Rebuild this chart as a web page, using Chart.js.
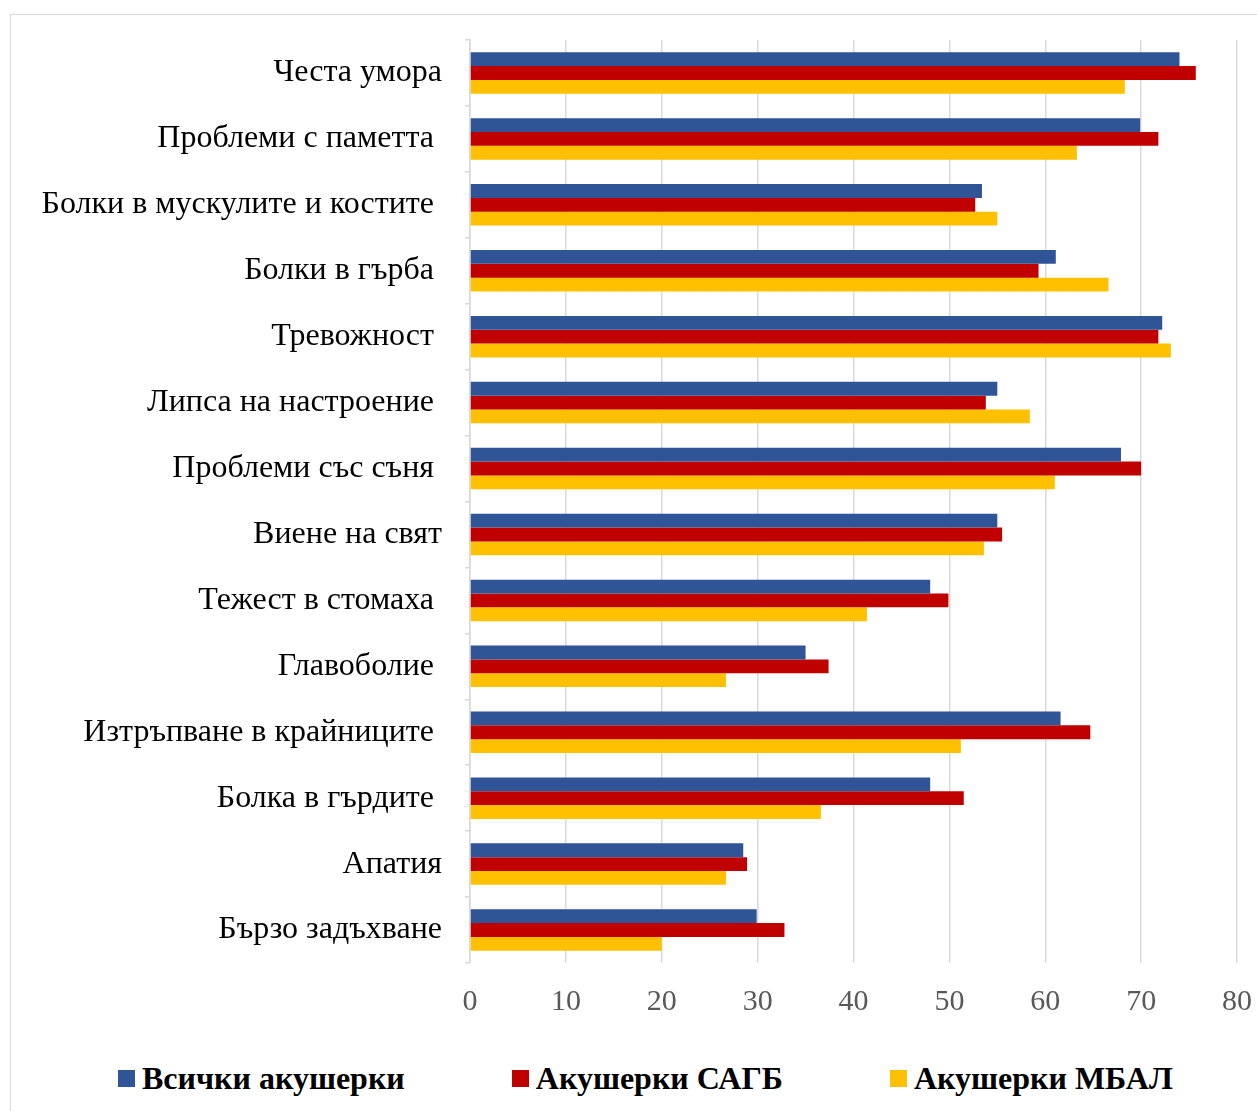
<!DOCTYPE html>
<html>
<head>
<meta charset="utf-8">
<script src="https://cdn.jsdelivr.net/npm/chart.js@4"></script>
<style>
  html, body { margin: 0; padding: 0; background: #fff; overflow: hidden; }
  #frame { position: absolute; left: 10px; top: 14px; width: 1300px; height: 1200px; border: 1px solid #d9d9d9; }
  #wrap { position: absolute; left: 0; top: 0; width: 1257px; height: 1023px; }
  #legend { position: absolute; left: 118px; top: 1059px; display: flex; gap: 107px;
            font: bold 32px "Liberation Serif", "Times New Roman", serif; color: #000; white-space: nowrap; }
  .item { display: flex; align-items: center; gap: 7px; line-height: 38px; }
  .box { width: 17px; height: 17px; }
</style>
</head>
<body>
<div id="frame"></div>
<div id="wrap"><canvas id="chart"></canvas></div>
<div id="legend"></div>
<script>
// Categories (trailing spaces kept as in the source labels)
const categories = [
  'Честа умора',
  'Проблеми с паметта ',
  'Болки в мускулите и костите ',
  'Болки в гърба ',
  'Тревожност ',
  'Липса на настроение ',
  'Проблеми със съня ',
  'Виене на свят',
  'Тежест в стомаха ',
  'Главоболие ',
  'Изтръпване в крайниците ',
  'Болка в гърдите ',
  'Апатия',
  'Бързо задъхване'
];

const seriesNames = ['Всички акушерки', 'Акушерки САГБ', 'Акушерки МБАЛ'];
const seriesColors = ['#2f5597', '#c00000', '#ffc000'];

const allMidwives = [74.0, 69.9, 53.4, 61.1, 72.2, 55.0, 67.9, 55.0, 48.0, 35.0, 61.6, 48.0, 28.5, 29.9];
const sagbMidwives = [75.7, 71.8, 52.7, 59.3, 71.8, 53.8, 70.0, 55.5, 49.9, 37.4, 64.7, 51.5, 28.9, 32.8];
const mbalMidwives = [68.3, 63.3, 55.0, 66.6, 73.1, 58.4, 61.0, 53.6, 41.4, 26.7, 51.2, 36.6, 26.7, 20.0];

const xTicks = [0, 10, 20, 30, 40, 50, 60, 70, 80];

const serif = "'Liberation Serif', 'Times New Roman', serif";
const gridColor = '#d9d9d9';

const values = [allMidwives, sagbMidwives, mbalMidwives];

const chart = new Chart(document.getElementById('chart').getContext('2d'), {
  type: 'bar',
  data: {
    labels: categories,
    datasets: values.map((data, i) => ({
      label: seriesNames[i],
      data: data,
      backgroundColor: seriesColors[i],
      borderWidth: 0,
      categoryPercentage: 0.63,
      barPercentage: 1.0
    }))
  },
  options: {
    indexAxis: 'y',
    responsive: true,
    maintainAspectRatio: false,
    animation: false,
    layout: { padding: { left: 0, right: 20, top: 40, bottom: 0 } },
    plugins: {
      legend: { display: false },
      tooltip: { enabled: false }
    },
    scales: {
      x: {
        min: 0,
        max: 80,
        afterBuildTicks: (scale) => { scale.ticks = xTicks.map(v => ({ value: v })); },
        afterFit: (scale) => { scale.height = 60; scale.paddingLeft = 0; scale.paddingRight = 0; },
        ticks: { color: '#595959', font: { family: serif, size: 30 }, padding: 21 },
        grid: { color: gridColor, lineWidth: 1.5, drawTicks: false },
        border: { display: false }
      },
      y: {
        afterFit: (scale) => { scale.width = 470; scale.paddingTop = 0; scale.paddingBottom = 0; },
        ticks: { color: '#000', font: { family: serif, size: 32 }, padding: 23, autoSkip: false },
        grid: { color: gridColor, lineWidth: 1.5, drawOnChartArea: false, drawTicks: true, tickLength: 5 },
        border: { display: true, color: gridColor, width: 1.5 }
      }
    }
  }
});

// HTML legend built from the chart's datasets
const legendEl = document.getElementById('legend');
chart.data.datasets.forEach(ds => {
  const item = document.createElement('div');
  item.className = 'item';
  item.innerHTML = `<span class="box" style="background:${ds.backgroundColor}"></span><span>${ds.label}</span>`;
  legendEl.appendChild(item);
});
</script>
</body>
</html>
